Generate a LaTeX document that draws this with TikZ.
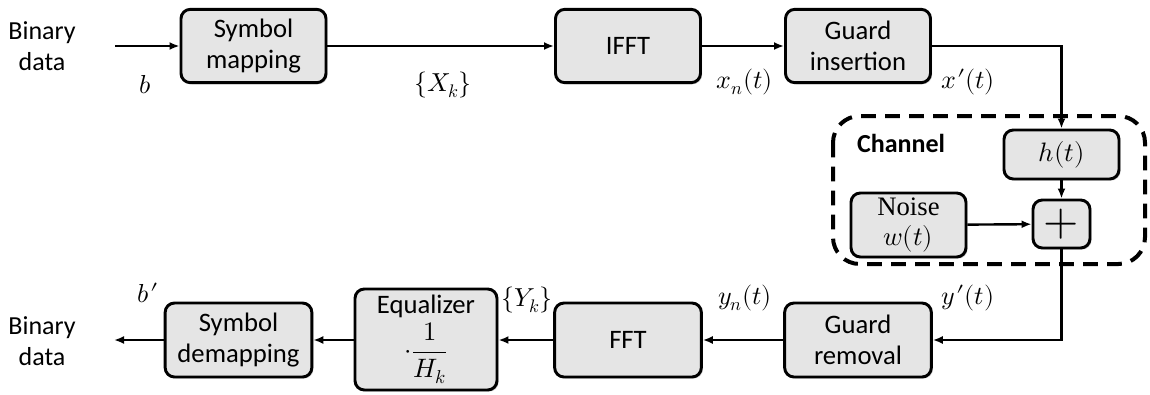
\documentclass[tikz,border=0pt]{standalone}
\usepackage{fontspec}
\usepackage{unicode-math}
\setmainfont{Carlito}
\newfontfamily\noisefont{Liberation Serif}
\usetikzlibrary{arrows.meta,shadows}
\newcommand{\pr}{\mkern1mu\prime}
\tikzset{
  blk/.style={draw=black, line width=2.2pt, rounded corners=7pt, fill=black!10,
    drop shadow={shadow xshift=1.2pt, shadow yshift=-1.2pt, opacity=0.35},
    align=center, inner sep=0pt, font=\fontsize{20}{23}\selectfont},
  topblk/.style={blk, minimum width=108.75pt, minimum height=55pt},
  botblk/.style={blk, minimum width=110pt, minimum height=55.5pt},
  arr/.style={line width=1.8pt, -{Latex[length=7.5pt,width=6pt]}},
  lbl/.style={font=\fontsize{19.5}{23}\selectfont, inner sep=0pt},
  chan/.style={draw=black, line width=3pt, dash pattern=on 11pt off 7pt, rounded corners=20pt}
}
\begin{document}
\begin{tikzpicture}[x=0.75pt,y=-0.75pt]
\useasboundingbox (0,0) rectangle (1150,394);
% top row
\node[lbl, align=center] (bin1) at (42,46) {Binary\\data};
\coordinate (in) at (115,46);
\node[topblk] (sm) at (253.5,46) {Symbol\\mapping};
\node[topblk] (ifft) at (628,46) {IFFT};
\node[topblk] (gi) at (858,46) {Guard\\insertion};
\node[lbl] (lb) at (145,85) {$b$};
\node[lbl] (lX) at (443,85) {$\{X_k\}$};
\node[lbl] (lxn) at (745,82) {$x_n(t)$};
\node[lbl] (lxp) at (968,82) {$x\pr(t)$};
% channel
\draw[chan] (833,116) rectangle (1145,264);
\node[lbl, font=\fontsize{19.5}{23}\selectfont\bfseries] (ch) at (901,143) {Channel};
\node[blk, minimum width=86.25pt, minimum height=36.75pt] (h) at (1061.5,154.5) {$h(t)$};
\node[blk, minimum width=86.25pt, minimum height=48pt, font=\fontsize{20}{22}\selectfont\noisefont] (noise) at (908.5,225) {Noise\\$w(t)$};
\node[blk, minimum width=42.75pt, minimum height=36pt, font=\fontsize{34}{34}\selectfont] (plus) at (1061.5,224) {$+$};
% bottom row
\node[botblk] (gr) at (858,340) {Guard\\removal};
\node[botblk] (fft) at (628,340) {FFT};
\node[blk, minimum width=106.5pt, minimum height=75.75pt] (eq) at (426,339.5) {Equalizer\\[3pt]$\displaystyle\cdot\frac{1}{H_k}$};
\node[botblk] (sd) at (238.5,340) {Symbol\\demapping};
\node[lbl, align=center] (bin2) at (42,341) {Binary\\data};
\coordinate (out) at (114,340);
\node[lbl] (lbp) at (148,293) {$b\pr$};
\node[lbl] (lY) at (527,300) {$\{Y_k\}$};
\node[lbl] (lyn) at (745,298) {$y_n(t)$};
\node[lbl] (lyp) at (968,298) {$y\pr(t)$};
% connectors
\draw[arr] (in) -- (sm.west);
\draw[arr] (sm) -- (ifft);
\draw[arr] (ifft) -- (gi);
\draw[arr] (gi.east) -| (h.north);
\draw[arr] (h) -- (plus);
\draw[arr] (noise) -- (plus);
\draw[arr] (plus.south) |- (gr.east);
\draw[arr] (gr) -- (fft);
\draw[arr] (fft.west) -- (fft.west -| eq.east);
\draw[arr] (eq.west |- sd.east) -- (sd.east);
\draw[arr] (sd.west) -- (out);
\end{tikzpicture}
\end{document}
